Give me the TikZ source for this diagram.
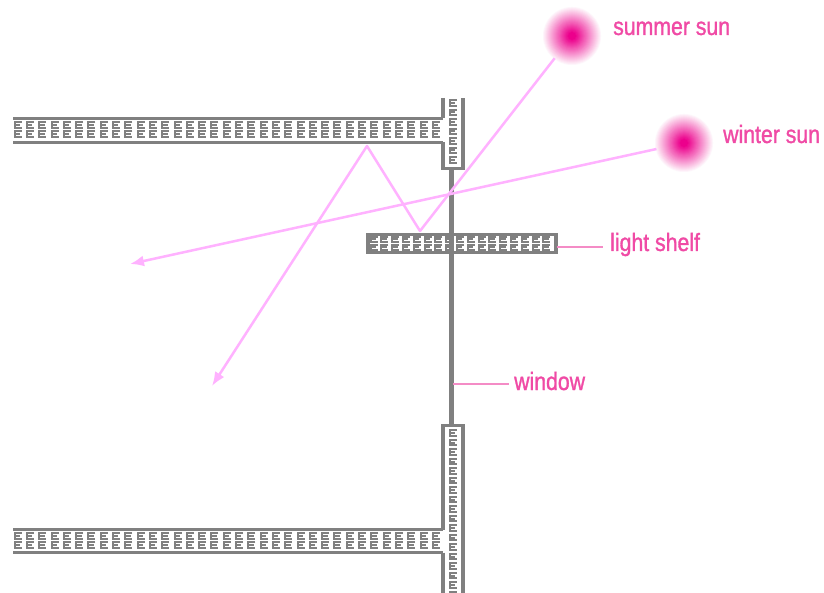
\documentclass[tikz,border=0pt]{standalone}
\usepackage{fontspec}
\setmainfont{Liberation Sans}
\newfontfamily\lblfont[FakeStretch=0.85,FakeBold=1.2]{Liberation Sans}
\usetikzlibrary{arrows.meta}
\definecolor{wallgray}{HTML}{808080}
\definecolor{sunpink}{HTML}{EC008C}
\definecolor{labelpink}{HTML}{F04AA5}
\definecolor{leaderpink}{HTML}{F48CC6}
\definecolor{raypink}{HTML}{FFB2FF}

\begin{document}
\begin{tikzpicture}[x=1pt,y=-1pt,
  wall/.style={draw=wallgray, line width=3.2pt},
  eline/.style={draw=wallgray, line width=2pt},
  eg/.pic={\draw[eline] (3.6,-2.7)--(-3.4,-2.7)--(-3.4,2.7)--(3.6,2.7) (-3.4,0)--(2,0);},
  glass/.style={draw=wallgray, line width=5pt},
  ray/.style={draw=raypink, line width=2.5pt},
  tip/.style={-{Latex[length=14pt,width=11pt]}},
  sun/.style={circle, minimum size=56pt, inner sep=0pt},
  lbl/.style={text=labelpink, font=\lblfont\fontsize{25}{25}\selectfont, anchor=base west, inner sep=0pt},
  leader/.style={draw=leaderpink, line width=2pt}]

\useasboundingbox (0,0) rectangle (824,593);
\fill[white] (0,0) rectangle (824,593);

% ceiling slab
\foreach \x in {18,30.3,...,438} { \pic at (\x,125) {eg}; \pic at (\x,134) {eg}; }
\draw[wall] (13,118.5) -- (443,118.5);
\draw[wall] (13,142.5) -- (443,142.5);

% upper wall
\foreach \y in {103,112.5,...,163} { \pic at (453,\y) {eg}; }
\draw[wall] (443,98) -- (443,118.5);
\draw[wall] (443,142.5) -- (443,168.5) -- (463,168.5) -- (463,98);

% floor slab
\foreach \x in {18,30.3,...,438} { \pic at (\x,536) {eg}; \pic at (\x,545) {eg}; }
\draw[wall] (13,529.5) -- (443,529.5);
\draw[wall] (13,552.5) -- (443,552.5);

% lower wall
\foreach \y in {433,442.5,...,595} { \pic at (453,\y) {eg}; }
\draw[wall] (443,529.5) -- (443,425.5) -- (463,425.5) -- (463,593);
\draw[wall] (443,552.5) -- (443,593);

% light shelf
\foreach \x in {374,384.8,...,552} { \pic at (\x,239.5) {eg}; \pic at (\x,247.5) {eg}; }
\draw[wall] (368,234.5) rectangle (556,252.5);

% window
\draw[glass] (451,168.5) -- (451,425.5);

% suns: soft glow built from concentric discs
\foreach \cx/\cy in {572/36, 684/143} {
  \foreach \r in {30,29,...,2} {
    \pgfmathsetmacro\p{min(100,115*(1-\r/30))}
    \fill[sunpink!\p!white] (\cx,\cy) circle (\r);
  }
}
\node[sun] (ss) at (572,36) {};
\node[sun] (ws) at (684,143) {};

% light paths
\coordinate (b1) at (420,231);
\coordinate (b2) at (367,146);
\coordinate (e1) at (212,386);
\coordinate (e2) at (130,264);
\draw[ray,tip,line join=round] (ss) -- (b1) -- (b2) -- (e1);
\draw[ray,tip] (ws) -- (e2);

% labels
\node[lbl] (lss) at (613,35) {summer sun};
\node[lbl] (lws) at (723,143) {winter sun};
\node[lbl] (lsh) at (610,251) {light shelf};
\node[lbl] (lwi) at (514,390) {window};

\coordinate (sh) at (557,247);
\coordinate (wi) at (453,384);
\draw[leader] (sh) -- (603,247);
\draw[leader] (wi) -- (509,384);
\end{tikzpicture}
\end{document}
